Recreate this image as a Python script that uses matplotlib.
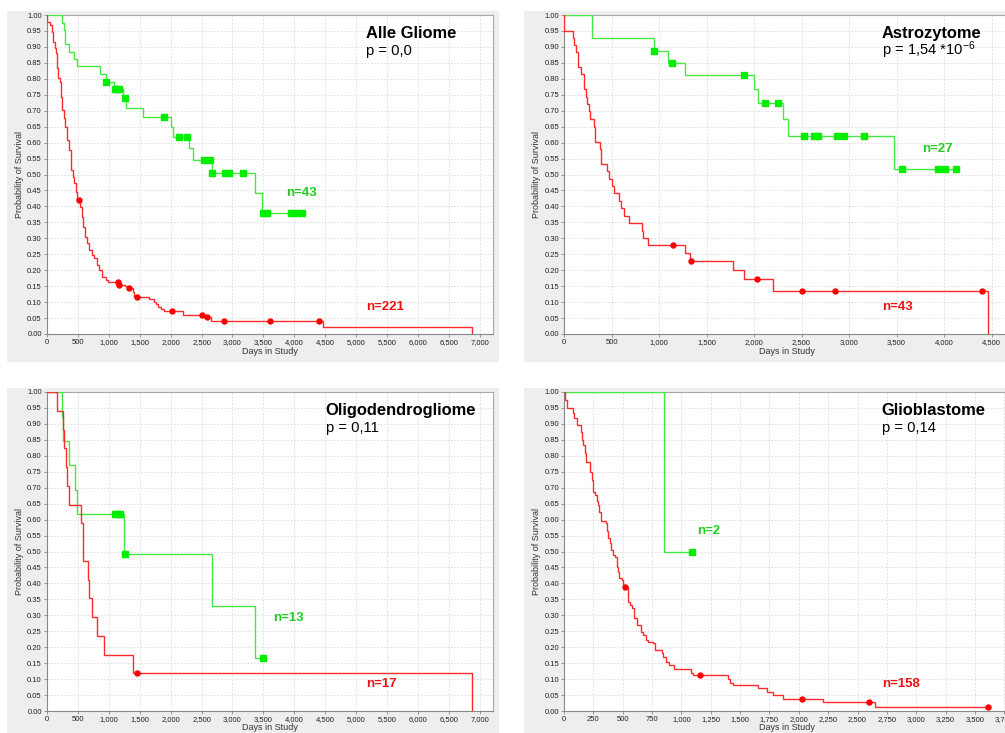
import matplotlib
matplotlib.use("Agg")
import matplotlib.pyplot as plt
import numpy as np
from matplotlib.patches import Rectangle
from matplotlib.ticker import FuncFormatter, MultipleLocator

plt.rcParams['mathtext.default'] = 'regular'

W, H = 1005, 733

# ---------------- data ----------------
# Alle Gliome
ag_red_t = [10, 53, 80, 107, 134, 150, 172, 188, 215, 231, 253, 280, 296, 323, 360, 387, 420, 447, 474, 495,
            538, 565, 592, 619, 657, 689, 727, 770, 808, 851, 899, 953, 996, 1163, 1265, 1303, 1389, 1416,
            1658, 1738, 1765, 1792, 1841, 1895, 2207, 2573, 2649, 4469, 6871]
ag_red_s = [0.979, 0.969, 0.948, 0.916, 0.895, 0.880, 0.833, 0.801, 0.791, 0.744, 0.702, 0.676, 0.650, 0.608,
            0.577, 0.514, 0.493, 0.472, 0.446, 0.420, 0.399, 0.368, 0.336, 0.305, 0.284, 0.263, 0.248, 0.237,
            0.216, 0.201, 0.180, 0.169, 0.164, 0.154, 0.150, 0.143, 0.133, 0.117, 0.110, 0.101, 0.093, 0.086,
            0.079, 0.071, 0.060, 0.052, 0.042, 0.022, 0.0]
ag_red_c = [527, 1152, 1174, 1335, 1454, 2029, 2503, 2595, 2859, 3613, 4405]
ag_red_end = 6871

ag_grn_t = [242, 280, 296, 361, 442, 485, 862, 950, 1093, 1228, 1282, 1562, 2009, 2046, 2305, 2369, 2671, 3366, 3473]
ag_grn_s = [0.976, 0.953, 0.908, 0.885, 0.861, 0.840, 0.815, 0.790, 0.767, 0.739, 0.709, 0.680, 0.649, 0.619,
            0.582, 0.545, 0.505, 0.441, 0.378]
ag_grn_c = [965, 1104, 1140, 1174, 1271, 1901, 2138, 2262, 2542, 2644, 2676, 2886, 2946, 3166, 3500, 3554,
            3947, 4012, 4130]
ag_grn_end = 4130

# Astrozytome
as_red_t = [3, 98, 109, 123, 151, 179, 207, 214, 232, 246, 260, 270, 316, 330, 379, 389, 453, 470, 505, 526,
            575, 596, 635, 684, 818, 828, 881, 1274, 1330, 1782, 1895, 2196, 4467]
as_red_s = [0.951, 0.928, 0.906, 0.883, 0.838, 0.814, 0.790, 0.767, 0.742, 0.720, 0.698, 0.675, 0.650, 0.603,
            0.579, 0.534, 0.510, 0.487, 0.463, 0.441, 0.417, 0.395, 0.371, 0.349, 0.324, 0.300, 0.279, 0.253,
            0.229, 0.201, 0.171, 0.136, 0.0]
as_red_c = [1144, 1335, 2032, 2502, 2853, 4404]
as_red_end = 4467

as_grn_t = [298, 947, 1098, 1274, 1996, 2046, 2302, 2361, 3470]
as_grn_s = [0.927, 0.888, 0.849, 0.811, 0.767, 0.723, 0.673, 0.620, 0.516]
as_grn_c = [951, 1140, 1898, 2119, 2256, 2526, 2632, 2677, 2877, 2947, 3154, 3561, 3940, 4011, 4123]
as_grn_end = 4123

# Oligodendrogliome
ol_red_t = [172, 258, 279, 306, 333, 366, 549, 592, 673, 684, 737, 818, 926, 1400, 6871]
ol_red_s = [0.941, 0.882, 0.824, 0.765, 0.706, 0.647, 0.588, 0.471, 0.412, 0.353, 0.294, 0.235, 0.176, 0.118, 0.0]
ol_red_c = [1454]
ol_red_end = 6871

ol_grn_t = [253, 269, 366, 452, 484, 1254, 2666, 3360]
ol_grn_s = [0.923, 0.847, 0.770, 0.693, 0.617, 0.492, 0.328, 0.165]
ol_grn_c = [1100, 1150, 1190, 1270, 3500]
ol_grn_end = 3500

# Glioblastome
gb_red_t = [8, 23, 74, 85, 114, 145, 150, 165, 179, 187, 221, 236, 250, 264, 278, 292, 301, 315, 355, 363,
            378, 392, 400, 415, 434, 449, 463, 471, 491, 505, 517, 542, 562, 582, 599, 619, 656, 676, 696, 718,
            761, 775, 832, 846, 866, 894, 937, 1082, 1102, 1394, 1414, 1442, 1655, 1732, 1777, 1868, 2203, 2649]
gb_red_s = [0.975, 0.949, 0.933, 0.917, 0.897, 0.876, 0.850, 0.834, 0.808, 0.780, 0.749, 0.723, 0.688, 0.678,
            0.657, 0.646, 0.625, 0.596, 0.589, 0.563, 0.542, 0.526, 0.505, 0.489, 0.484, 0.452, 0.437, 0.416,
            0.410, 0.395, 0.388, 0.343, 0.332, 0.322, 0.291, 0.270, 0.249, 0.238, 0.223, 0.217, 0.212, 0.191,
            0.181, 0.170, 0.155, 0.144, 0.131, 0.120, 0.113, 0.099, 0.089, 0.080, 0.071, 0.061, 0.050, 0.038,
            0.027, 0.0125]
gb_red_c = [520, 1158, 2025, 2595, 3612]
gb_red_end = 3612

gb_grn_t = [855]
gb_grn_s = [0.5]
gb_grn_c = [1093]
gb_grn_end = 1093

titles = ["Alle Gliome", "Astrozytome", "Oligodendrogliome", "Glioblastome"]
pvals = ["p = 0,0", "p = 1,54 *10$^{-6}$", "p = 0,11", "p = 0,14"]
n_green = ["n=43", "n=27", "n=13", "n=2"]
n_red = ["n=221", "n=43", "n=17", "n=158"]

# ---------------- layout (pixels) ----------------
panels = [
    dict(bg=(7, 11, 499, 362), ax=(46.7, 15, 493.2, 334), xmax=7210, xstep=500,
         red=(ag_red_t, ag_red_s, ag_red_c, ag_red_end), grn=(ag_grn_t, ag_grn_s, ag_grn_c, ag_grn_end),
         title=(366, 38.3), p=(366, 55), ng=(286, 193), nr=(366, 307), yl=(20, 174.5), xl=(270, 352)),
    dict(bg=(524, 11, 1010, 362), ax=(564, 15, 564 + 4700 * 0.095, 334), xmax=4700, xstep=500,
         red=(as_red_t, as_red_s, as_red_c, as_red_end), grn=(as_grn_t, as_grn_s, as_grn_c, as_grn_end),
         title=(881.7, 38.3), p=(881.7, 55), ng=(922, 149), nr=(882, 307), yl=(536.7, 174.5), xl=(787, 352)),
    dict(bg=(7, 388, 499, 740), ax=(46.7, 392, 493.2, 711), xmax=7210, xstep=500,
         red=(ol_red_t, ol_red_s, ol_red_c, ol_red_end), grn=(ol_grn_t, ol_grn_s, ol_grn_c, ol_grn_end),
         title=(325.7, 415), p=(325.7, 432.3), ng=(273, 618), nr=(366, 684), yl=(20, 551.5), xl=(270, 728)),
    dict(bg=(524, 388, 1010, 740), ax=(564, 392, 564 + 3850 * 0.1174, 711), xmax=3850, xstep=250,
         red=(gb_red_t, gb_red_s, gb_red_c, gb_red_end), grn=(gb_grn_t, gb_grn_s, gb_grn_c, gb_grn_end),
         title=(881.7, 415), p=(881.7, 432.3), ng=(697, 531), nr=(882, 684), yl=(536.7, 551.5), xl=(787, 728)),
]

RED_LINE = '#FF2A2A'
RED_MARK = '#FF0000'
GRN_LINE = '#44E844'
GRN_MARK = '#00EE00'
GRN_TEXT = '#22CC22'
RED_TEXT = '#EE1111'

fig = plt.figure(figsize=(W / 100, H / 100), dpi=100)
fig.patch.set_facecolor('white')


def fx(x):
    return x / W


def fy(y):
    return 1 - y / H


def draw_curve(ax, t, s, c, end, lcol, mcol, marker, ms):
    t = np.asarray(t, float)
    s = np.asarray(s, float)
    x = np.concatenate([[0], t, [end]])
    y = np.concatenate([[1.0], s, [s[-1]]])
    ax.step(x, y, where='post', color=lcol, lw=1.0, zorder=3, solid_joinstyle='miter')
    c = np.asarray(c, float)
    idx = np.searchsorted(t, c, side='right') - 1
    cy = np.where(idx >= 0, s[np.clip(idx, 0, None)], 1.0)
    ax.plot(c, cy, linestyle='none', marker=marker, color=mcol, ms=ms, mec=mcol, zorder=4)


for i, P in enumerate(panels):
    bx0, by0, bx1, by1 = P['bg']
    rect = Rectangle((fx(bx0), fy(by1)), (bx1 - bx0) / W, (by1 - by0) / H,
                     transform=fig.transFigure, facecolor='#EEEEEE', edgecolor='none', zorder=-5)
    fig.add_artist(rect)
    l, t_, r, b = P['ax']
    ax = fig.add_axes([fx(l), fy(b), (r - l) / W, (b - t_) / H])
    ax.set_zorder(1)
    ax.set_facecolor('white')
    ax.set_xlim(0, P['xmax'])
    ax.set_ylim(0, 1.0)
    ax.xaxis.set_major_locator(MultipleLocator(P['xstep']))
    ax.yaxis.set_major_locator(MultipleLocator(0.05))
    ax.xaxis.set_major_formatter(FuncFormatter(lambda v, p: f"{int(round(v)):,}"))
    ax.yaxis.set_major_formatter(FuncFormatter(lambda v, p: f"{v:.2f}"))
    ax.grid(True, color='#DADADA', linestyle=(0, (2, 2)), linewidth=0.6, zorder=1)
    ax.set_axisbelow(True)
    for sp in ax.spines.values():
        sp.set_color('#A8A8A8')
        sp.set_linewidth(0.8)
    ax.spines['left'].set_color('#888888')
    ax.spines['bottom'].set_color('#888888')
    ax.tick_params(axis='both', length=2, width=0.6, color='#888888', pad=1.5,
                   labelsize=5.5, labelcolor='#222222')
    for lab in ax.get_xticklabels() + ax.get_yticklabels():
        lab.set_fontfamily('Liberation Sans')

    rt, rs, rc, rend = P['red']
    gt, gs, gc, gend = P['grn']
    draw_curve(ax, gt, gs, gc, gend, GRN_LINE, GRN_MARK, 's', 4.0)
    draw_curve(ax, rt, rs, rc, rend, RED_LINE, RED_MARK, 'o', 3.6)

    kw = dict(family='Liberation Sans', ha='left', zorder=5)
    fig.text(fx(P['title'][0]), fy(P['title'][1]), titles[i], fontsize=11.9, fontweight='bold',
             va='baseline', color='black', **kw)
    fig.text(fx(P['p'][0]), fy(P['p'][1]), pvals[i], fontsize=10.6,
             va='baseline', color='black', **kw)
    fig.text(fx(P['ng'][0]), fy(P['ng'][1]), n_green[i], fontsize=9.5, fontweight='bold',
             va='center', color=GRN_TEXT, **kw)
    fig.text(fx(P['nr'][0]), fy(P['nr'][1]), n_red[i], fontsize=9.5, fontweight='bold',
             va='center', color=RED_TEXT, **kw)
    fig.text(fx(P['yl'][0]), fy(P['yl'][1]), "Probability of Survival", rotation=90, fontsize=6.5,
             family='Liberation Sans', ha='center', va='center', color='#333333', zorder=5)
    fig.text(fx(P['xl'][0]), fy(P['xl'][1]), "Days in Study", fontsize=6.5,
             family='Liberation Sans', ha='center', va='center', color='#333333', zorder=5)

fig.savefig('out.png', dpi=100, facecolor='white')
